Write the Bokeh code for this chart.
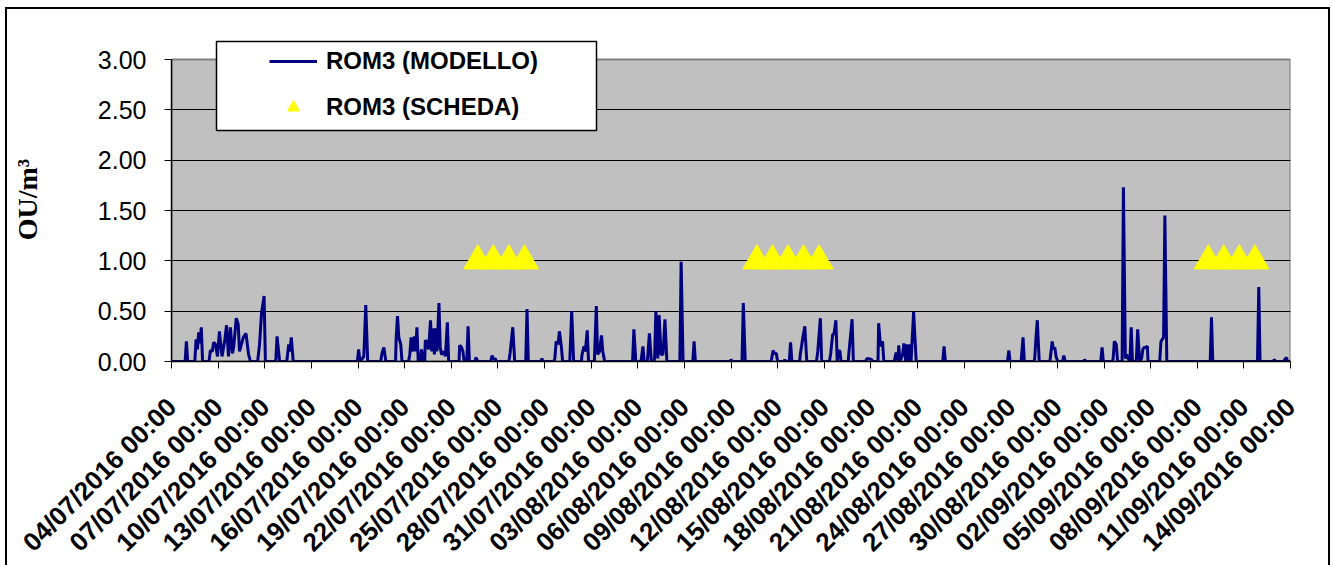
import math
from bokeh.plotting import figure
from bokeh.models import (Range1d, FixedTicker, NumeralTickFormatter, Legend,
                          LegendItem, BoxAnnotation)
from bokeh.embed import file_html
from bokeh.resources import INLINE

# x axis: hours since 04/07/2016 00:00 (hourly series)
TICK_HOURS = list(range(0, 1729, 72))
TICK_LABELS = ["04/07/2016 00:00", "07/07/2016 00:00", "10/07/2016 00:00",
               "13/07/2016 00:00", "16/07/2016 00:00", "19/07/2016 00:00",
               "22/07/2016 00:00", "25/07/2016 00:00", "28/07/2016 00:00",
               "31/07/2016 00:00", "03/08/2016 00:00", "06/08/2016 00:00",
               "09/08/2016 00:00", "12/08/2016 00:00", "15/08/2016 00:00",
               "18/08/2016 00:00", "21/08/2016 00:00", "24/08/2016 00:00",
               "27/08/2016 00:00", "30/08/2016 00:00", "02/09/2016 00:00",
               "05/09/2016 00:00", "08/09/2016 00:00", "11/09/2016 00:00",
               "14/09/2016 00:00"]
Y_TICKS = [0.0, 0.5, 1.0, 1.5, 2.0, 2.5, 3.0]
Y_GRID = [0.5, 1.0, 1.5, 2.0, 2.5]
X_START, X_END = 0, 1728
Y_MIN, Y_MAX = 0.0, 3.0

# ROM3 (MODELLO) - model series (hour, OU/m3)
MODEL_HOURS = [
    0, 21, 23, 25, 36, 38, 40, 42, 44, 46, 48,
    58, 60, 63, 65, 68, 71, 74, 78, 82, 85, 88, 91, 94, 96, 100, 103, 105, 108,
    111, 115, 119, 122, 133, 136, 139, 143, 145, 161, 163, 167,
    178, 181, 183, 185, 188,
    287, 289, 291, 297, 300, 303, 323, 325, 328, 331,
    346, 347, 349, 351, 354, 356, 366, 368, 370, 373, 375, 377, 379, 381,
    384, 386, 389, 391, 392, 395, 397, 400, 402, 404, 406, 408, 410, 413, 415,
    417, 421, 423, 426, 428, 444, 445, 448, 450, 452, 456, 458, 460,
    469, 470, 473, 493, 495, 497, 500, 502, 521, 523, 527, 530, 547, 549, 551,
    570, 572, 574,
    590, 592, 594, 597, 599, 602, 604, 615, 618, 621,
    633, 634, 637, 639, 642, 644, 653, 656, 658, 661, 664, 666, 669,
    712, 714, 717, 725, 728, 730, 735, 736, 738, 741,
    745, 746, 748, 751, 753, 756, 759, 762, 765, 785, 787, 790, 805, 807, 809,
    863, 864, 866,
    881, 883, 886, 926, 929, 931, 934, 936, 946, 947, 948, 954, 956, 958,
    970, 971, 975, 978, 981, 996, 998, 1002, 1004,
    1016, 1018, 1021, 1023, 1026, 1028, 1030, 1032, 1034,
    1045, 1046, 1051, 1053, 1072, 1073, 1075, 1081, 1083,
    1091, 1092, 1095, 1098, 1100,
    1116, 1119, 1122, 1123, 1125, 1129, 1131, 1134, 1136, 1138, 1140, 1142,
    1146, 1150,
    1191, 1193, 1195, 1291, 1293, 1295, 1312, 1315, 1317,
    1332, 1333, 1335, 1337, 1340,
    1356, 1357, 1360, 1362, 1364, 1366, 1367, 1369, 1376, 1378, 1380,
    1409, 1410, 1412, 1435, 1437, 1439, 1452, 1454, 1456, 1459, 1461,
    1468, 1470, 1473, 1475, 1478, 1480, 1482, 1484,
    1489, 1490, 1492, 1495, 1498, 1500, 1502, 1504, 1507, 1508,
    1526, 1528, 1532, 1534, 1537, 1604, 1606, 1608, 1677, 1679, 1681,
    1701, 1703, 1705, 1718, 1719, 1722, 1723, 1728,
]
MODEL_OU = [
    0, 0, 0.20, 0, 0, 0.22, 0.12, 0.29, 0.18, 0.34, 0,
    0, 0.11, 0.10, 0.19, 0.17, 0.05, 0.30, 0.05, 0.20, 0.36, 0.05, 0.34, 0.08, 0.14, 0.43, 0.37, 0.10, 0.17,
    0.24, 0.28, 0.07, 0, 0, 0.17, 0.48, 0.65, 0, 0, 0.25, 0,
    0, 0.17, 0.10, 0.24, 0,
    0, 0.12, 0, 0.05, 0.56, 0, 0, 0.08, 0.14, 0,
    0, 0.24, 0.45, 0.24, 0.17, 0, 0, 0.07, 0.24, 0.10, 0.25, 0.10, 0.34, 0,
    0, 0.12, 0, 0, 0.21, 0.19, 0.12, 0.41, 0.10, 0.33, 0.07, 0.33, 0.10, 0.58, 0.14,
    0.07, 0.10, 0.05, 0.39, 0, 0, 0.16, 0.14, 0.10, 0, 0, 0.35, 0,
    0, 0.04, 0, 0, 0.06, 0.02, 0.03, 0, 0, 0.09, 0.34, 0, 0, 0.52, 0,
    0, 0.03, 0,
    0, 0.03, 0.20, 0.17, 0.30, 0.15, 0, 0, 0.50, 0,
    0, 0.07, 0.15, 0.10, 0.31, 0, 0, 0.55, 0.07, 0.10, 0.26, 0.10, 0,
    0, 0.32, 0, 0, 0.15, 0, 0, 0.10, 0.28, 0,
    0, 0.03, 0.50, 0.03, 0.46, 0.07, 0.07, 0.42, 0, 0, 0.99, 0, 0, 0.20, 0,
    0, 0.02, 0,
    0, 0.58, 0, 0, 0.11, 0.08, 0.08, 0, 0, 0.02, 0, 0, 0.19, 0,
    0, 0.07, 0.24, 0.35, 0, 0, 0.10, 0.43, 0,
    0, 0.08, 0.27, 0.27, 0.41, 0, 0.10, 0.11, 0,
    0, 0.08, 0.42, 0, 0, 0.02, 0.03, 0.02, 0,
    0, 0.38, 0.15, 0.20, 0,
    0, 0.09, 0, 0.16, 0, 0.07, 0.18, 0, 0.17, 0, 0.17, 0,
    0.49, 0,
    0, 0.15, 0, 0, 0.11, 0, 0, 0.24, 0,
    0, 0.03, 0.24, 0.41, 0,
    0, 0.03, 0.20, 0.12, 0.14, 0.05, 0.03, 0, 0, 0.06, 0,
    0, 0.02, 0, 0, 0.14, 0, 0, 0.02, 0.20, 0.17, 0,
    0, 1.73, 0.03, 0.07, 0.02, 0, 0.34, 0,
    0, 0.02, 0.32, 0, 0.03, 0.12, 0.14, 0.14, 0.15, 0,
    0, 0.20, 0.24, 1.45, 0, 0, 0.44, 0, 0, 0.74, 0,
    0, 0.02, 0, 0, 0.02, 0.04, 0, 0,
]

# ROM3 (SCHEDA) - observation sheet points (hour, OU/m3)
SHEET_HOURS = [473, 497, 521, 545, 904, 928, 952, 976, 1000, 1601, 1625, 1649, 1673]
SHEET_OU = [1.0] * 13

SANS = "Liberation Sans"
SERIF = "Liberation Serif"

# frame extends 22px above the 3.00 line to host the legend box
PX_PER_UNIT = 302 / 3.0
Y_TOP = Y_MAX + 22 / PX_PER_UNIT

p = figure(frame_width=1119, frame_height=324,
           x_range=Range1d(X_START, X_END), y_range=Range1d(Y_MIN, Y_TOP),
           output_backend="svg", toolbar_location=None,
           min_border_left=164, min_border_right=38, min_border_top=28,
           min_border_bottom=201,
           background_fill_color="white", border_fill_color="white",
           outline_line_color=None)
p.styles = {"border": "2px solid black", "margin-left": "5px", "margin-top": "7px"}

# grey plot area with grey border
area = BoxAnnotation(left=X_START, right=X_END, bottom=Y_MIN, top=Y_MAX,
                     fill_color="#C0C0C0", fill_alpha=1.0,
                     line_color="#808080", line_width=2, line_alpha=1.0,
                     level="image")
p.add_layout(area)

p.xgrid.visible = False
p.ygrid.grid_line_color = "black"
p.ygrid.grid_line_width = 1.2
p.ygrid.ticker = FixedTicker(ticks=Y_GRID)

yax = p.yaxis[0]
yax.ticker = FixedTicker(ticks=Y_TICKS)
yax.bounds = (Y_MIN, Y_MAX)
yax.formatter = NumeralTickFormatter(format="0.00")
yax.major_label_text_font = SANS
yax.major_label_text_font_size = "25px"
yax.major_label_text_color = "black"
yax.major_tick_out = 7
yax.major_tick_in = 0
yax.minor_tick_line_color = None
yax.major_label_standoff = 18
yax.axis_line_color = "black"
yax.axis_line_width = 1.5
yax.axis_label = "OU/m³"
yax.axis_label_text_font = SERIF
yax.axis_label_text_font_style = "bold"
yax.axis_label_text_font_size = "28px"
yax.axis_label_text_color = "black"
yax.axis_label_standoff = 52

xax = p.xaxis[0]
xax.ticker = FixedTicker(ticks=TICK_HOURS)
xax.major_label_overrides = {h: lbl for h, lbl in zip(TICK_HOURS, TICK_LABELS)}
xax.major_label_orientation = math.pi / 4
xax.major_label_text_font = SANS
xax.major_label_text_font_style = "bold"
xax.major_label_text_font_size = "26px"
xax.major_label_text_color = "black"
xax.major_label_standoff = 34
xax.major_tick_out = 7
xax.major_tick_in = 0
xax.minor_tick_line_color = None
xax.axis_line_color = "black"
xax.axis_line_width = 1.5

line_r = p.line(MODEL_HOURS, MODEL_OU, line_color="#000080", line_width=3)
tri_r = p.scatter(SHEET_HOURS, SHEET_OU, marker="triangle", size=28,
                  fill_color="#FFFF00", line_color="#FFFF00")

box = BoxAnnotation(left=207, right=587, top=30, bottom=119,
                    left_units="canvas", right_units="canvas",
                    top_units="canvas", bottom_units="canvas",
                    fill_color="white", fill_alpha=1.0,
                    line_color="black", line_width=1.5, line_alpha=1.0)
p.add_layout(box)

legend = Legend(items=[LegendItem(label="ROM3 (MODELLO)", renderers=[line_r]),
                       LegendItem(label="ROM3 (SCHEDA)", renderers=[tri_r])],
                location=(98, 239), orientation="vertical", padding=0,
                spacing=16, glyph_width=48, glyph_height=30, label_height=30,
                label_standoff=9, label_text_font=SANS,
                label_text_font_style="bold", label_text_font_size="24px",
                label_text_color="black", border_line_alpha=0,
                background_fill_alpha=0, margin=0)
p.add_layout(legend)

open("out.html", "w").write(file_html(p, INLINE))
